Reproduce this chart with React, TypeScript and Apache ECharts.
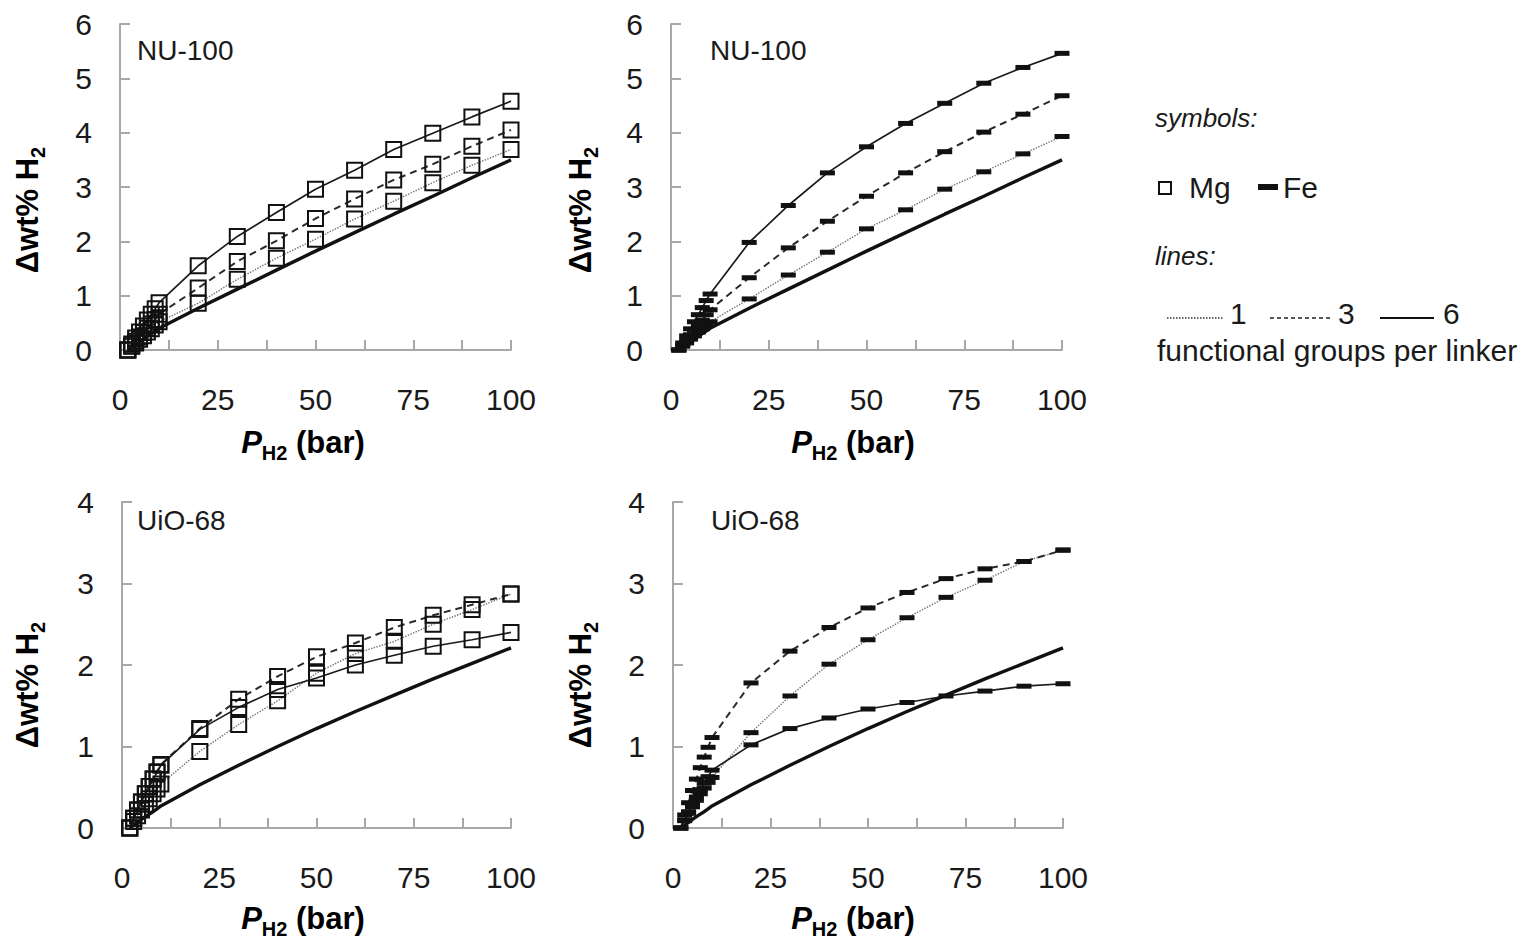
import React, { useEffect, useRef } from 'react';
import * as echarts from 'echarts';

// Pressure points (bar)
const P = [2, 3, 4, 5, 6, 7, 8, 9, 10, 20, 30, 40, 50, 60, 70, 80, 90, 100];

// NU-100 reference (unfunctionalized)
const nuRef = [0, 0.05, 0.1, 0.15, 0.2, 0.25, 0.3, 0.35, 0.4, 0.77, 1.12, 1.47, 1.82, 2.16, 2.5, 2.83, 3.17, 3.5];
// NU-100 Mg
const nuMg1 = [0, 0.07, 0.13, 0.2, 0.26, 0.33, 0.39, 0.46, 0.52, 0.86, 1.3, 1.69, 2.04, 2.41, 2.74, 3.08, 3.4, 3.69];
const nuMg3 = [0, 0.08, 0.16, 0.24, 0.32, 0.4, 0.48, 0.56, 0.66, 1.14, 1.63, 2.01, 2.42, 2.78, 3.13, 3.42, 3.75, 4.05];
const nuMg6 = [0, 0.11, 0.22, 0.33, 0.44, 0.55, 0.66, 0.76, 0.87, 1.55, 2.09, 2.53, 2.96, 3.31, 3.69, 3.99, 4.29, 4.58];
// NU-100 Fe
const nuFe1 = [0, 0.07, 0.13, 0.2, 0.26, 0.33, 0.39, 0.46, 0.52, 0.94, 1.38, 1.8, 2.23, 2.58, 2.96, 3.28, 3.61, 3.93];
const nuFe3 = [0, 0.09, 0.18, 0.28, 0.37, 0.46, 0.55, 0.65, 0.74, 1.33, 1.88, 2.37, 2.83, 3.26, 3.65, 4.01, 4.34, 4.68];
const nuFe6 = [0, 0.13, 0.26, 0.39, 0.52, 0.65, 0.78, 0.91, 1.03, 1.98, 2.66, 3.26, 3.74, 4.17, 4.54, 4.91, 5.2, 5.46];

// UiO-68 reference
const uioRef = [0, 0.035, 0.07, 0.105, 0.14, 0.17, 0.2, 0.235, 0.27, 0.53, 0.77, 1.0, 1.22, 1.43, 1.63, 1.83, 2.02, 2.21];
// UiO-68 Mg
const uioMg1 = [0, 0.08, 0.15, 0.22, 0.29, 0.36, 0.42, 0.48, 0.54, 0.94, 1.27, 1.56, 1.9, 2.14, 2.29, 2.5, 2.68, 2.87];
const uioMg3 = [0, 0.12, 0.22, 0.32, 0.42, 0.51, 0.6, 0.69, 0.78, 1.22, 1.58, 1.86, 2.1, 2.27, 2.46, 2.61, 2.74, 2.87];
const uioMg6 = [0, 0.12, 0.22, 0.32, 0.42, 0.51, 0.6, 0.68, 0.77, 1.21, 1.48, 1.7, 1.84, 2.0, 2.12, 2.23, 2.31, 2.4];
// UiO-68 Fe
const uioFe1 = [0, 0.09, 0.18, 0.26, 0.34, 0.42, 0.49, 0.56, 0.62, 1.17, 1.62, 2.01, 2.31, 2.58, 2.83, 3.04, 3.27, 3.41];
const uioFe3 = [0, 0.16, 0.31, 0.46, 0.6, 0.74, 0.87, 0.99, 1.11, 1.78, 2.17, 2.46, 2.7, 2.89, 3.06, 3.18, 3.27, 3.41];
const uioFe6 = [0, 0.1, 0.2, 0.29, 0.38, 0.47, 0.55, 0.63, 0.71, 1.02, 1.22, 1.35, 1.46, 1.54, 1.62, 1.68, 1.74, 1.77];

const xLabels = [0, 25, 50, 75, 100];
const panelNames = ['NU-100', 'NU-100', 'UiO-68', 'UiO-68'];
const yMax = [6, 6, 4, 4];

const FONT = '"Liberation Sans", Arial, sans-serif';
const AXIS_COLOR = '#a8a8a8';
const TEXT_COLOR = '#1a1a1a';

const grids = [
  { left: 120, top: 24, width: 391, height: 326 },
  { left: 671, top: 24, width: 391, height: 326 },
  { left: 122, top: 502, width: 389, height: 326 },
  { left: 673, top: 502, width: 390, height: 326 },
];

const lineStyles: Record<string, any> = {
  g1: { type: 'dotted', width: 1.4, color: '#707070' },
  g3: { type: [7, 5], width: 2, color: '#2a2a2a' },
  g6: { type: 'solid', width: 1.7, color: '#1a1a1a' },
  ref: { type: 'solid', width: 3.4, color: '#111' },
};

function zip(vals: number[]) {
  return P.map((p, i) => [p, vals[i]]);
}

function mkSeries(gi: number, vals: number[], kind: string, metal: string | null) {
  const s: any = {
    type: 'line',
    xAxisIndex: gi,
    yAxisIndex: gi,
    data: zip(vals),
    lineStyle: lineStyles[kind],
    clip: false,
    silent: true,
    z: kind === 'ref' ? 1 : 2,
  };
  if (!metal) {
    s.showSymbol = false;
    s.symbol = 'none';
  } else if (metal === 'Mg') {
    s.symbol = 'rect';
    s.symbolSize = 15;
    s.itemStyle = { color: 'rgba(255,255,255,0)', borderColor: '#111', borderWidth: 2 };
  } else {
    s.symbol = 'rect';
    s.symbolSize = [15, 5];
    s.itemStyle = { color: '#111', borderWidth: 0 };
  }
  return s;
}

const subRich = {
  a: { fontFamily: FONT, fontSize: 31, fontWeight: 'bold', color: TEXT_COLOR, padding: [0, 0, 5, 0], verticalAlign: 'bottom' },
  s: { fontFamily: FONT, fontSize: 20, fontWeight: 'bold', color: TEXT_COLOR, verticalAlign: 'bottom' },
  p: { fontFamily: FONT, fontSize: 31, fontWeight: 'bold', fontStyle: 'italic', color: TEXT_COLOR, padding: [0, 0, 5, 0], verticalAlign: 'bottom' },
};

function yTitle(x: number, y: number) {
  return {
    type: 'text',
    x,
    y,
    rotation: Math.PI / 2,
    style: {
      text: '{a|Δwt% H}{s|2}',
      rich: subRich,
      align: 'center',
      verticalAlign: 'middle',
    },
  };
}

function xTitle(x: number, y: number) {
  return {
    type: 'text',
    x,
    y,
    style: {
      text: '{p|P}{s|H2}{a| (bar)}',
      rich: subRich,
      align: 'center',
      verticalAlign: 'middle',
    },
  };
}

function plainText(x: number, y: number, text: string, size: number, italic = false, align = 'left') {
  return {
    type: 'text',
    x,
    y,
    style: {
      text,
      fontFamily: FONT,
      fontSize: size,
      fontStyle: italic ? 'italic' : 'normal',
      fill: TEXT_COLOR,
      align,
      verticalAlign: 'middle',
    },
  };
}

export default function App() {
  const ref = useRef<HTMLDivElement>(null);
  useEffect(() => {
    if (!ref.current) return;
    const chart = echarts.init(ref.current, null, { renderer: 'svg' });

    const xAxes = grids.map((_, gi) => ({
      type: 'value',
      gridIndex: gi,
      min: 0,
      max: 100,
      interval: 12.5,
      axisLine: { show: true, lineStyle: { color: AXIS_COLOR, width: 2 } },
      axisTick: { show: true, inside: true, length: 10, lineStyle: { color: AXIS_COLOR, width: 2 } },
      splitLine: { show: false },
      axisLabel: {
        margin: 34,
        fontFamily: FONT,
        fontSize: 30,
        color: TEXT_COLOR,
        formatter: (v: number) => (xLabels.indexOf(v) >= 0 ? String(v) : ''),
      },
    }));
    const yAxes = grids.map((_, gi) => ({
      type: 'value',
      gridIndex: gi,
      min: 0,
      max: yMax[gi],
      interval: 1,
      axisLine: { show: true, lineStyle: { color: AXIS_COLOR, width: 2 } },
      axisTick: { show: true, inside: true, length: 10, lineStyle: { color: AXIS_COLOR, width: 2 } },
      splitLine: { show: false },
      axisLabel: { margin: 28, fontFamily: FONT, fontSize: 30, color: TEXT_COLOR },
    }));

    const series = [
      mkSeries(0, nuRef, 'ref', null),
      mkSeries(0, nuMg1, 'g1', 'Mg'),
      mkSeries(0, nuMg3, 'g3', 'Mg'),
      mkSeries(0, nuMg6, 'g6', 'Mg'),
      mkSeries(1, nuRef, 'ref', null),
      mkSeries(1, nuFe1, 'g1', 'Fe'),
      mkSeries(1, nuFe3, 'g3', 'Fe'),
      mkSeries(1, nuFe6, 'g6', 'Fe'),
      mkSeries(2, uioRef, 'ref', null),
      mkSeries(2, uioMg1, 'g1', 'Mg'),
      mkSeries(2, uioMg3, 'g3', 'Mg'),
      mkSeries(2, uioMg6, 'g6', 'Mg'),
      mkSeries(3, uioRef, 'ref', null),
      mkSeries(3, uioFe1, 'g1', 'Fe'),
      mkSeries(3, uioFe3, 'g3', 'Fe'),
      mkSeries(3, uioFe6, 'g6', 'Fe'),
    ];

    const graphic: any[] = [
      plainText(137, 50, panelNames[0], 28),
      plainText(710, 50, panelNames[1], 28),
      plainText(137, 520, panelNames[2], 28),
      plainText(711, 520, panelNames[3], 28),
      yTitle(30, 210),
      yTitle(583, 210),
      yTitle(30, 685),
      yTitle(583, 685),
      xTitle(303, 445),
      xTitle(853, 445),
      xTitle(303, 921),
      xTitle(853, 921),
      // legend
      plainText(1155, 118, 'symbols:', 26, true),
      { type: 'rect', shape: { x: 1159, y: 182, width: 12, height: 12 }, style: { fill: 'none', stroke: '#111', lineWidth: 2 } },
      plainText(1189, 187, 'Mg', 30),
      { type: 'rect', shape: { x: 1258, y: 184, width: 20, height: 6 }, style: { fill: '#111' } },
      plainText(1283, 187, 'Fe', 30),
      plainText(1155, 256, 'lines:', 26, true),
      { type: 'line', shape: { x1: 1167, y1: 318, x2: 1224, y2: 318 }, style: { stroke: '#333', lineWidth: 1.4, lineDash: [1.5, 1.5] } },
      plainText(1230, 313, '1', 30),
      { type: 'line', shape: { x1: 1270, y1: 318, x2: 1330, y2: 318 }, style: { stroke: '#222', lineWidth: 1.6, lineDash: [4, 3] } },
      plainText(1338, 313, '3', 30),
      { type: 'line', shape: { x1: 1380, y1: 318, x2: 1434, y2: 318 }, style: { stroke: '#111', lineWidth: 1.8 } },
      plainText(1443, 313, '6', 30),
      plainText(1157, 350, 'functional groups per linker', 30),
    ];

    chart.setOption({
      animation: false,
      backgroundColor: '#ffffff',
      grid: grids.map((g) => ({ ...g, containLabel: false })),
      xAxis: xAxes,
      yAxis: yAxes,
      series,
      graphic,
    });
    return () => chart.dispose();
  }, []);
  return (
    <div
      ref={ref}
      style={{ position: 'fixed', left: 0, top: 0, width: 1526, height: 940, background: '#fff' }}
    />
  );
}
